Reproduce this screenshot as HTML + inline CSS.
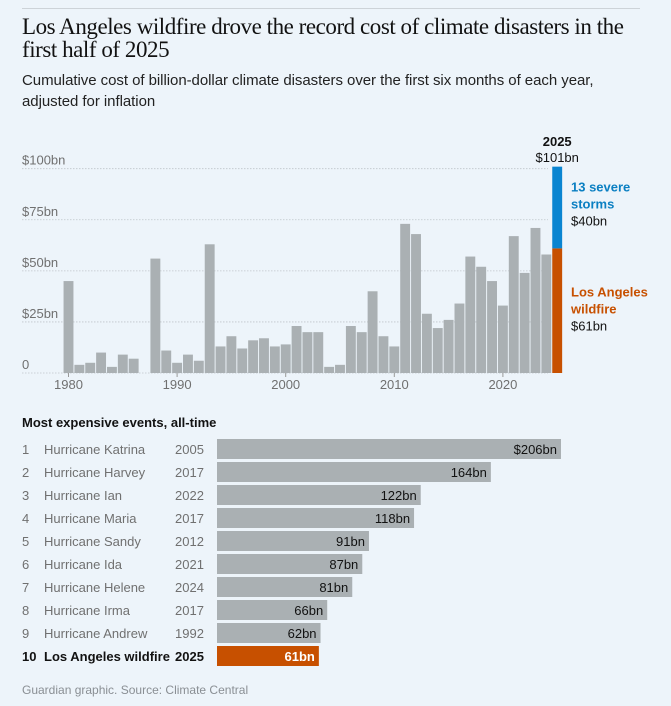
<!DOCTYPE html>
<html><head><meta charset="utf-8"><style>
body{margin:0;background:#edf4fa;font-family:"Liberation Sans",sans-serif;}
#wrap{position:relative;width:671px;height:706px;overflow:hidden;background:#edf4fa;}
.t{position:absolute;white-space:nowrap;}
</style></head><body>
<div id="wrap">
<div style="position:absolute;left:22px;top:8px;width:618px;height:1px;background:#cdd3d8"></div>
<div class="t" style="left:22px;top:15px;font-family:'Liberation Serif',serif;font-size:23px;line-height:23px;letter-spacing:-0.45px;color:#121212;">Los Angeles wildfire drove the record cost of climate disasters in the<br>first half of 2025</div>
<div class="t" style="left:22px;top:70px;font-size:15px;line-height:21px;color:#222;letter-spacing:-0.05px">Cumulative cost of billion-dollar climate disasters over the first six months of each year,<br>adjusted for inflation</div>
<svg id="topchart" width="671" height="400" style="position:absolute;left:0;top:0"></svg>
<div class="t" style="left:22px;top:415px;font-size:13px;font-weight:bold;color:#121212">Most expensive events, all-time</div>
<svg id="tbl" width="671" height="706" style="position:absolute;left:0;top:0"></svg>
<div class="t" style="left:22px;top:683px;font-size:12px;color:#8a8f94">Guardian graphic. Source: Climate Central</div>
</div>
<script>
const years=[1980,1981,1982,1983,1984,1985,1986,1987,1988,1989,1990,1991,1992,1993,1994,1995,1996,1997,1998,1999,2000,2001,2002,2003,2004,2005,2006,2007,2008,2009,2010,2011,2012,2013,2014,2015,2016,2017,2018,2019,2020,2021,2022,2023,2024];
const costs=[45,4,5,10,3,9,7,0,56,11,5,9,6,63,13,18,12,16,17,13,14,23,20,20,3,4,23,20,40,18,13,73,68,29,22,26,34,57,52,45,33,67,49,71,58];
const wildfire2025=61;
const storms2025=40;
const yTicks=[0,25,50,75,100];
const yTickLabels=["0","$25bn","$50bn","$75bn","$100bn"];
const xTicks=[1980,1990,2000,2010,2020];

const ranks=["1","2","3","4","5","6","7","8","9","10"];
const names=["Hurricane Katrina","Hurricane Harvey","Hurricane Ian","Hurricane Maria","Hurricane Sandy","Hurricane Ida","Hurricane Helene","Hurricane Irma","Hurricane Andrew","Los Angeles wildfire"];
const eventYears=["2005","2017","2022","2017","2012","2021","2024","2017","1992","2025"];
const eventCosts=[206,164,122,118,91,87,81,66,62,61];

const NS="http://www.w3.org/2000/svg";
function mk(p,tag,a){const e=document.createElementNS(NS,tag);for(const k in a)e.setAttribute(k,a[k]);p.appendChild(e);return e;}
const chart=document.getElementById('topchart');
const yS=v=>373-v*2.043;
const xS=yr=>68.5+(yr-1980)*10.86;
const bw=9.9;
function txt(p,s,a,name){const t=mk(p,'text',Object.assign({'font-family':'Liberation Sans, sans-serif'},a));t.textContent=s;return t;}
yTicks.forEach((v,i)=>{
  const l=mk(chart,'line',{x1:22,x2:548,y1:yS(v),y2:yS(v),stroke:'#bfc5ca','stroke-dasharray':'1.5,1.5','stroke-width':0.8});
  
  
  txt(chart,yTickLabels[i],{x:22,y:yS(v)-4,'font-size':13,fill:'#707070'},'y-tick-label');
});
years.forEach((yr,i)=>{
  if(costs[i]<=0)return;
  const r=mk(chart,'rect',{x:xS(yr)-bw/2,y:yS(costs[i]),width:bw,height:costs[i]*2.043,fill:'#aab0b3'});
  
  
});
const xw=xS(2025)-bw/2;
const rw=mk(chart,'rect',{x:xw,y:yS(wildfire2025),width:bw,height:wildfire2025*2.043,fill:'#c75000'});


const rs=mk(chart,'rect',{x:xw,y:yS(wildfire2025+storms2025),width:bw,height:storms2025*2.043,fill:'#0a85d1'});


xTicks.forEach(yr=>{
  const l=mk(chart,'line',{x1:xS(yr),x2:xS(yr),y1:373,y2:377,stroke:'#999','stroke-width':1});
  
  
  txt(chart,String(yr),{x:xS(yr),y:389,'font-size':13,fill:'#707070','text-anchor':'middle'},'x-tick-label');
});
const cx=xS(2025);
txt(chart,'2025',{x:cx,y:146,'font-size':13,'font-weight':'bold','text-anchor':'middle',fill:'#121212'},'annotation-2025-year');
txt(chart,'$'+(wildfire2025+storms2025)+'bn',{x:cx,y:162,'font-size':13,'text-anchor':'middle',fill:'#121212'},'annotation-2025-total');
const sy=yS(wildfire2025+storms2025);
txt(chart,'13 severe',{x:571,y:sy+25,'font-size':13,'font-weight':'bold',fill:'#0a7fc2'},'storms-label');
txt(chart,'storms',{x:571,y:sy+42,'font-size':13,'font-weight':'bold',fill:'#0a7fc2'},'storms-label-2');
txt(chart,'$'+storms2025+'bn',{x:571,y:sy+59,'font-size':13,fill:'#121212'},'storms-value');
const wy=yS(wildfire2025);
txt(chart,'Los Angeles',{x:571,y:wy+48,'font-size':13,'font-weight':'bold',fill:'#c75000'},'wildfire-label');
txt(chart,'wildfire',{x:571,y:wy+65,'font-size':13,'font-weight':'bold',fill:'#c75000'},'wildfire-label-2');
txt(chart,'$'+wildfire2025+'bn',{x:571,y:wy+82,'font-size':13,fill:'#121212'},'wildfire-value');

const tbl=document.getElementById('tbl');
const bx=217, sc=344/206;
names.forEach((n,i)=>{
  const ty=439+i*23, last=i===names.length-1;
  const col=last?'#121212':'#707070', fw=last?'bold':'normal';
  txt(tbl,ranks[i],{x:22,y:ty+15,'font-size':13,fill:col,'font-weight':fw},'rank-'+ranks[i]);
  txt(tbl,n,{x:44,y:ty+15,'font-size':13,fill:col,'font-weight':fw},'event-name');
  txt(tbl,eventYears[i],{x:175,y:ty+15,'font-size':13,fill:col,'font-weight':fw},'event-year');
  const r=mk(tbl,'rect',{x:bx,y:ty,width:eventCosts[i]*sc,height:20,fill:last?'#c75000':'#aab0b3'});
  
  
  txt(tbl,(i===0?'$':'')+eventCosts[i]+'bn',{x:bx+eventCosts[i]*sc-4,y:ty+15,'font-size':13,'text-anchor':'end',fill:last?'#fff':'#121212','font-weight':fw},'event-value');
});
</script>
</body></html>
